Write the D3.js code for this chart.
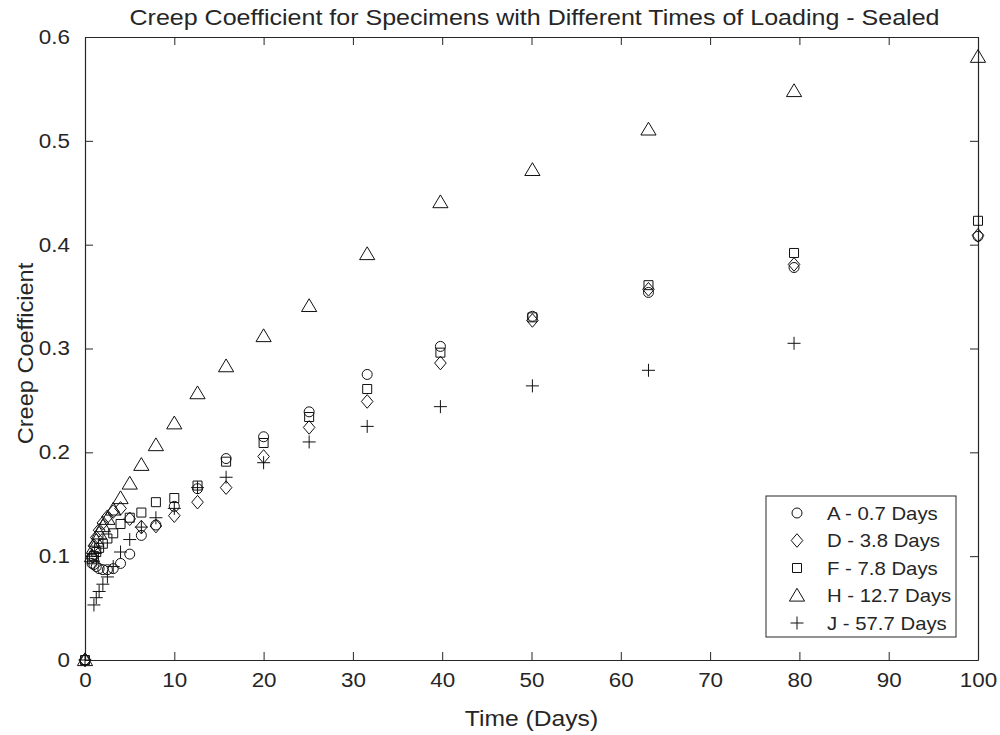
<!DOCTYPE html>
<html>
<head>
<meta charset="utf-8">
<script src="https://cdn.jsdelivr.net/npm/d3@7"></script>
<style>
  html, body { margin: 0; padding: 0; background: #fff; }
  svg { display: block; }
  text { font-family: "Liberation Sans", Arial, Helvetica, sans-serif; fill: #262626; }
</style>
</head>
<body>
<svg id="chart" width="1000" height="735"></svg>
<script>
// ---------------- data ----------------
const chartTitle = "Creep Coefficient for Specimens with Different Times of Loading - Sealed";
const xLabel = "Time (Days)";
const yLabel = "Creep Coefficient";
const xTicks = [0, 10, 20, 30, 40, 50, 60, 70, 80, 90, 100];
const yTicks = [0, 0.1, 0.2, 0.3, 0.4, 0.5, 0.6];
const seriesNames = ["A - 0.7 Days", "D - 3.8 Days", "F - 7.8 Days", "H - 12.7 Days", "J - 57.7 Days"];
const seriesMarkers = ["circle", "diamond", "square", "triangle", "plus"];

const times = [0, 0.79, 1.0, 1.26, 1.58, 2.0, 2.51, 3.16, 3.98, 5.01, 6.31, 7.94, 10, 12.6, 15.8, 20, 25.1, 31.6, 39.8, 50.1, 63.1, 79.4, 100];

const valuesA = [0, 0.093, 0.092, 0.090, 0.088, 0.087, 0.087, 0.088, 0.093, 0.102, 0.120, 0.130, 0.148, 0.165, 0.194, 0.215, 0.239, 0.275, 0.302, 0.331, 0.354, 0.378, 0.408];
const valuesD = [0, 0.100, 0.110, 0.118, 0.125, 0.132, 0.138, 0.143, 0.146, 0.136, 0.128, 0.129, 0.139, 0.152, 0.166, 0.196, 0.224, 0.249, 0.286, 0.327, 0.357, 0.381, 0.409];
const valuesF = [0, 0.097, 0.100, 0.104, 0.108, 0.112, 0.117, 0.122, 0.131, 0.137, 0.142, 0.152, 0.156, 0.168, 0.191, 0.209, 0.234, 0.261, 0.296, 0.330, 0.361, 0.392, 0.423];
const valuesH = [0, 0.100, 0.108, 0.115, 0.122, 0.129, 0.136, 0.145, 0.156, 0.170, 0.188, 0.207, 0.228, 0.257, 0.283, 0.312, 0.341, 0.391, 0.441, 0.472, 0.511, 0.548, 0.581];
const valuesJ = [0, null, 0.053, 0.060, 0.066, 0.073, 0.080, 0.090, 0.104, 0.116, 0.128, 0.137, 0.146, 0.166, 0.176, 0.190, 0.210, 0.225, 0.244, 0.264, 0.279, 0.305, null];

const allSeries = [valuesA, valuesD, valuesF, valuesH, valuesJ];

// ---------------- layout ----------------
const svg = d3.select("#chart");
const plot = { left: 85, right: 978, top: 37, bottom: 660 };
const tickLen = 8;
const axisColor = "#262626";

const x = d3.scaleLinear().domain([0, 100]).range([plot.left, plot.right]);
const y = d3.scaleLinear().domain([0, 0.6]).range([plot.bottom, plot.top]);

// widen text slightly (the reference font renders wider than Liberation Sans)
function stretch(sel, factor) {
  sel.each(function () {
    const w = this.getComputedTextLength();
    if (w > 0) d3.select(this).attr("textLength", w * factor).attr("lengthAdjust", "spacingAndGlyphs");
  });
}

const markerPaths = {
  circle: d3.symbol(d3.symbolCircle, Math.PI * 5 * 5)(),
  square: "M-4.5,-4.5H4.5V4.5H-4.5Z",
  diamond: "M0,-6.8L5.8,0L0,6.8L-5.8,0Z",
  triangle: "M0,-7.2L7.6,5.6L-7.6,5.6Z",
  plus: "M-6.5,0H6.5M0,-6.5V6.5"
};

svg.append("rect")
  .attr("x", plot.left).attr("y", plot.top)
  .attr("width", plot.right - plot.left).attr("height", plot.bottom - plot.top)
  .attr("fill", "#fff");

// axes with inward ticks
const fmtY = d => (d === 0 ? "0" : d3.format(".1f")(d));
const gxB = svg.append("g").attr("transform", `translate(0,${plot.bottom})`)
  .call(d3.axisBottom(x).tickValues(xTicks).tickSizeInner(-tickLen).tickSizeOuter(0).tickPadding(13).tickFormat(d3.format("d")));
const gxT = svg.append("g").attr("transform", `translate(0,${plot.top})`)
  .call(d3.axisTop(x).tickValues(xTicks).tickSizeInner(-tickLen).tickSizeOuter(0).tickFormat(""));
const gyL = svg.append("g").attr("transform", `translate(${plot.left},0)`)
  .call(d3.axisLeft(y).tickValues(yTicks).tickSizeInner(-tickLen).tickSizeOuter(0).tickPadding(15).tickFormat(fmtY));
const gyR = svg.append("g").attr("transform", `translate(${plot.right},0)`)
  .call(d3.axisRight(y).tickValues(yTicks).tickSizeInner(-tickLen).tickSizeOuter(0).tickFormat(""));

[gxB, gxT, gyL, gyR].forEach(g => {
  g.select(".domain").attr("stroke", axisColor).attr("stroke-width", 1.2);
  g.selectAll(".tick line").attr("stroke", axisColor).attr("stroke-width", 1);
  g.selectAll(".tick text").attr("font-size", 20).attr("fill", axisColor)
    .attr("font-family", "'Liberation Sans', Arial, sans-serif");
});
stretch(gxB.selectAll(".tick text"), 1.12);
stretch(gyL.selectAll(".tick text"), 1.12);

// markers
const marksG = svg.append("g");
allSeries.forEach((vals, si) => {
  const pts = times.map((t, i) => ({ t, v: vals[i] })).filter(p => p.v !== null);
  marksG.append("g").selectAll("path").data(pts).join("path")
    .attr("transform", p => `translate(${x(p.t)},${y(p.v)})`)
    .attr("d", markerPaths[seriesMarkers[si]])
    .attr("fill", "none")
    .attr("stroke", "#111")
    .attr("stroke-width", 1);
});

// title & labels
svg.append("text")
  .attr("x", (plot.left + plot.right) / 2 + 3).attr("y", 25)
  .attr("text-anchor", "middle").attr("font-size", 22)
  .attr("textLength", 810).attr("lengthAdjust", "spacingAndGlyphs")
  .text(chartTitle);

const xl = svg.append("text")
  .attr("x", (plot.left + plot.right) / 2).attr("y", 726)
  .attr("text-anchor", "middle").attr("font-size", 22)
  .text(xLabel);
stretch(xl, 1.12);

const yl = svg.append("text")
  .attr("transform", `translate(33,${(plot.top + plot.bottom) / 2 + 5}) rotate(-90)`)
  .attr("text-anchor", "middle").attr("font-size", 22)
  .text(yLabel);
stretch(yl, 1.07);

// legend
const legend = { x: 766, y: 496, w: 190, h: 141, rowH: 27.5, first: 17, markX: 31, textX: 61 };
const lg = svg.append("g").attr("transform", `translate(${legend.x},${legend.y})`);
lg.append("rect").attr("width", legend.w).attr("height", legend.h)
  .attr("fill", "#fff").attr("stroke", axisColor).attr("stroke-width", 1);
seriesNames.forEach((name, i) => {
  const cy = legend.first + i * legend.rowH;
  lg.append("path").attr("transform", `translate(${legend.markX},${cy})`)
    .attr("d", markerPaths[seriesMarkers[i]])
    .attr("fill", "none").attr("stroke", "#111").attr("stroke-width", 1);
  const t = lg.append("text").attr("x", legend.textX).attr("y", cy).attr("dy", "0.35em")
    .attr("font-size", 19).text(name);
  stretch(t, 1.07);
});
</script>
</body>
</html>
